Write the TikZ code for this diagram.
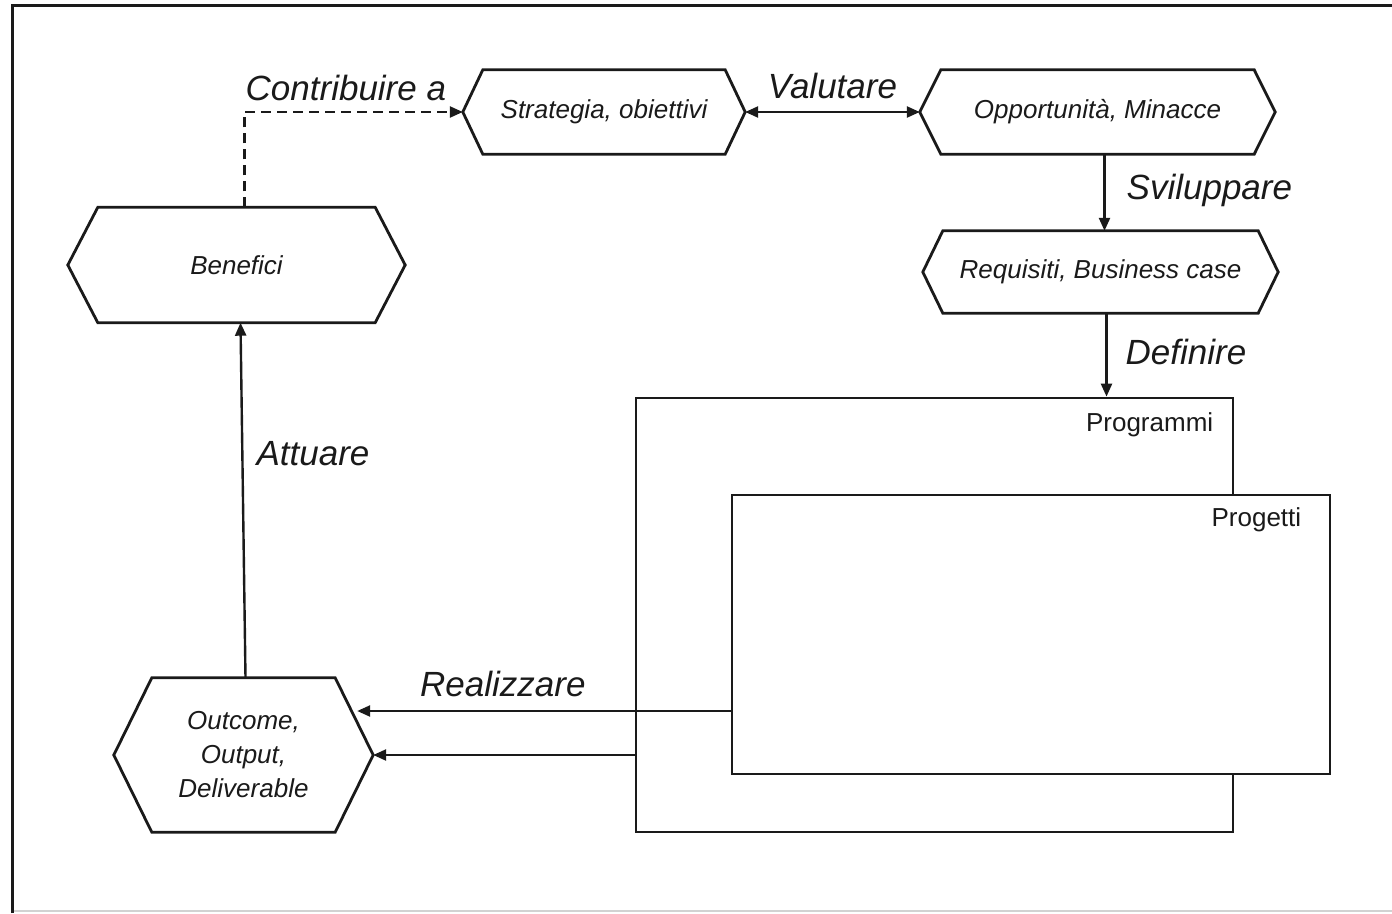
\documentclass[tikz,border=0pt]{standalone}
\usepackage{fontspec}
\setmainfont{Liberation Sans}
\usepackage{tikz}
\usetikzlibrary{arrows.meta,positioning,calc}
\definecolor{cInk}{HTML}{1A1A1A}
\definecolor{cEdge}{HTML}{D2D2D2}
\tikzset{
  hexbox/.style={draw=none,inner sep=0pt,align=center,font=\fontsize{26}{34}\selectfont\itshape,text=cInk},
  hexline/.style={draw=cInk,line width=2.8pt,line join=miter},
  pbox/.style={draw=cInk,line width=2.8pt,inner sep=0pt},
  plbl/.style={font=\fontsize{26}{30}\selectfont,text=cInk,inner sep=0pt},
  arr/.style={-{Triangle[length=13pt,width=11pt]},line width=2.4pt,color=cInk},
  darr/.style={{Triangle[length=13pt,width=11pt]}-{Triangle[length=13pt,width=11pt]},line width=2.4pt,color=cInk},
  dasharr/.style={arr,dash pattern=on 10pt off 6pt},
  lbl/.style={font=\fontsize{35}{40}\selectfont\itshape,text=cInk,inner sep=0pt},
}
% hexagon round a named node: name, slant
\newcommand{\hexpath}[2]{%
  \draw[hexline] (#1.west) -- ([xshift=#2]#1.north west) -- ([xshift=-#2]#1.north east)
    -- (#1.east) -- ([xshift=-#2]#1.south east) -- ([xshift=#2]#1.south west) -- cycle;}

\begin{document}
\begin{tikzpicture}[x=1pt,y=-1pt]
  \useasboundingbox (0,0) rectangle (1392,913);
  \draw[cEdge,line width=1.5pt] (12,911) -- (1392,911);
  \draw[cInk,line width=3pt] (12,913) -- (12,5) -- (1392,5);

  % hexagons
  \node[hexbox,minimum width=282pt,minimum height=84pt] (strat) at (604,112) {Strategia, obiettivi};
  \node[hexbox,minimum width=355pt,minimum height=84pt] (opp) at (1097.5,112) {Opportunità, Minacce};
  \node[hexbox,minimum width=355pt,minimum height=82pt] (req) at (1100.5,272) {Requisiti, Business case};
  \node[hexbox,minimum width=337pt,minimum height=115pt] (ben) at (236.5,265) {Benefici};
  \node[hexbox,minimum width=259pt,minimum height=154pt] (out) at (243.5,755) {Outcome,\\Output,\\Deliverable};
  \hexpath{strat}{20pt}
  \hexpath{opp}{21pt}
  \hexpath{req}{20pt}
  \hexpath{ben}{30pt}
  \hexpath{out}{38pt}

  % boxes
  \node[pbox,minimum width=597pt,minimum height=434pt] (prog) at (934.5,615) {};
  \node[plbl,anchor=east] (progl) at ([xshift=-21pt,yshift=-28pt]prog.north east) {Programmi};
  \node[pbox,fill=white,minimum width=598pt,minimum height=279pt] (proj) at (1031,634.5) {};
  \node[plbl,anchor=east] (projl) at ([xshift=-30pt,yshift=-26pt]proj.north east) {Progetti};

  % connectors
  \draw[dasharr] ([xshift=8pt]ben.north) |- node[lbl,anchor=south west,yshift=10pt] {Contribuire a} (strat.west);
  \draw[darr] (strat.east) -- node[lbl,above,yshift=12pt] {Valutare} (opp.west);
  \draw[arr] ([xshift=7pt]opp.south) -- node[lbl,anchor=west,xshift=21pt,pos=0.47] {Sviluppare} ([xshift=4pt]req.north);
  \draw[arr] ([xshift=6pt]req.south) -- node[lbl,anchor=west,xshift=18pt,pos=0.47] {Definire} ([xshift=6pt]req.south |- prog.north);
  \draw[arr] ([xshift=2pt]out.north) -- node[lbl,anchor=west,xshift=13pt,pos=0.63] {Attuare} ([xshift=4pt]ben.south);
  \coordinate (outr) at ([xshift=-16pt,yshift=44pt]out.east);
  \draw[arr] (proj.west |- outr) -- node[lbl,above,yshift=13pt,pos=0.61] {Realizzare} (outr);
  \draw[arr] (prog.west |- out.east) -- (out.east);
\end{tikzpicture}
\end{document}
